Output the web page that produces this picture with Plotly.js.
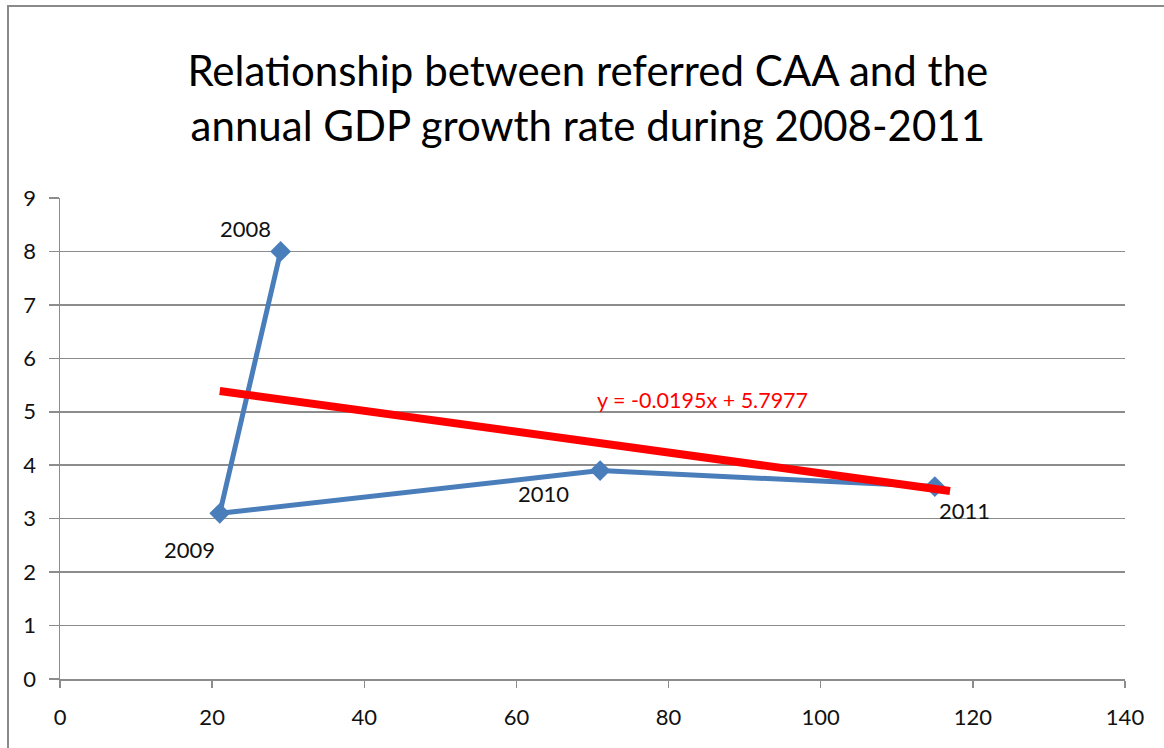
<!DOCTYPE html>
<html>
<head>
<meta charset="utf-8">
<script src="https://cdn.plot.ly/plotly-3.0.1.min.js"></script>
<style>
  html, body { margin: 0; padding: 0; background: #ffffff; }
  #wrap { position: relative; width: 1164px; height: 748px; overflow: hidden; }
  #chart { width: 1164px; height: 748px; }
  #frame { position: absolute; left: 7px; top: 5px; width: 1200px; height: 800px;
           border-left: 2px solid #8a8a8a; border-top: 2px solid #8a8a8a; pointer-events: none; }
</style>
</head>
<body>
<div id="wrap">
  <div id="chart"></div>
  <div id="frame"></div>
</div>
<script>
// Data
const years = ["2008", "2009", "2010", "2011"];
const referredCAA = [29, 21, 71, 115];
const gdpGrowth = [8, 3.1, 3.9, 3.6];
// Linear trendline shown on the chart: y = -0.0195x + 5.7977
const trendSlope = -0.0195;
const trendIntercept = 5.7977;
const trendX = [21, 117];
const trendLabel = "y = -0.0195x + 5.7977";
const xTicks = [0, 20, 40, 60, 80, 100, 120, 140];
const yTicks = [0, 1, 2, 3, 4, 5, 6, 7, 8, 9];

const trendY = trendX.map(x => trendSlope * x + trendIntercept);

const FONT = "Lato, 'Open Sans', sans-serif";
const BLUE = "#4a7ebb";
const GRID = "#8c8c8c";
const TEXT = "#111111";

const traces = [
  {
    type: "scatter",
    mode: "lines+markers",
    x: referredCAA,
    y: gdpGrowth,
    line: { color: BLUE, width: 5 },
    marker: { symbol: "diamond", size: 16, color: BLUE },
    hoverinfo: "skip",
    showlegend: false
  },
  {
    type: "scatter",
    mode: "lines",
    x: trendX,
    y: trendY,
    line: { color: "#ff0000", width: 8 },
    hoverinfo: "skip",
    showlegend: false
  }
];

const labelShifts = [
  { dx: -35, dy: 23 },
  { dx: -30, dy: -36 },
  { dx: -57, dy: -23 },
  { dx: 30, dy: -24 }
];

const annotations = years.map((yr, i) => ({
  x: referredCAA[i], y: gdpGrowth[i], xref: "x", yref: "y",
  text: yr, showarrow: false, xanchor: "center", yanchor: "middle",
  xshift: labelShifts[i].dx, yshift: labelShifts[i].dy,
  font: { family: FONT, size: 22, color: TEXT }
}));

annotations.push({
  x: 84.4, y: 5.22, xref: "x", yref: "y",
  text: trendLabel, showarrow: false, xanchor: "center", yanchor: "middle",
  font: { family: FONT, size: 21.5, color: "#ff0000" }
});

const layout = {
  width: 1164,
  height: 748,
  paper_bgcolor: "#ffffff",
  plot_bgcolor: "#ffffff",
  margin: { l: 60, r: 39, t: 198, b: 69 },
  title: {
    text: "Relationship between referred CAA and the<br>annual GDP growth rate during 2008-2011",
    font: { family: FONT, size: 42, color: "#000000" },
    x: 0.505, xanchor: "center",
    y: 0.885, yanchor: "middle", yref: "container"
  },
  xaxis: {
    range: [0, 140],
    tickvals: xTicks,
    ticktext: xTicks.map(String),
    showgrid: false,
    zeroline: false,
    showline: true,
    linecolor: GRID,
    linewidth: 1.5,
    ticks: "outside",
    ticklen: 7,
    tickwidth: 1.5,
    tickcolor: GRID,
    ticklabelstandoff: 11,
    tickfont: { family: FONT, size: 22, color: TEXT },
    fixedrange: true
  },
  yaxis: {
    range: [0, 9],
    tickvals: yTicks,
    ticktext: yTicks.map(String),
    showgrid: true,
    gridcolor: GRID,
    gridwidth: 1.5,
    zeroline: false,
    showline: true,
    linecolor: GRID,
    linewidth: 1.5,
    ticks: "outside",
    ticklen: 10,
    tickwidth: 1.5,
    tickcolor: GRID,
    ticklabelstandoff: 8,
    tickfont: { family: FONT, size: 22, color: TEXT },
    fixedrange: true
  },
  annotations: annotations,
  showlegend: false
};

Plotly.newPlot("chart", traces, layout, { displayModeBar: false, staticPlot: true });
</script>
</body>
</html>
